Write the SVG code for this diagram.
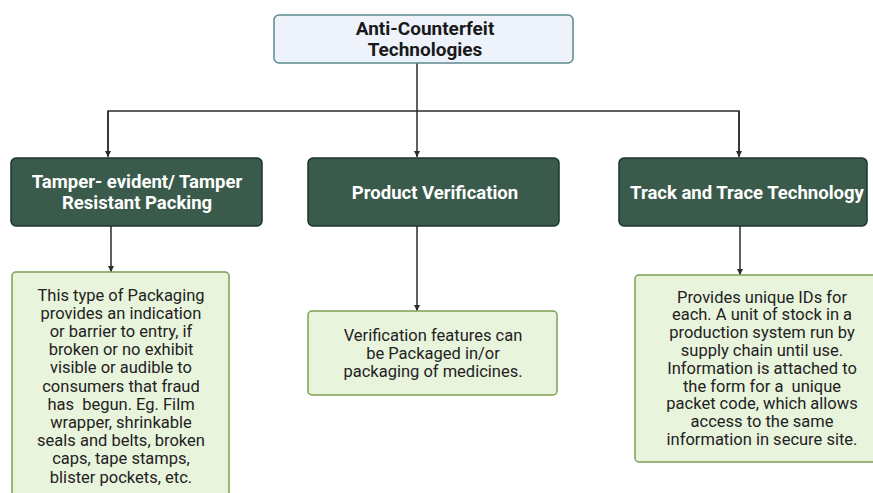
<svg xmlns="http://www.w3.org/2000/svg" width="873" height="493" viewBox="0 0 873 493">
<defs>
<marker id="arr" viewBox="0 0 10 10" refX="10" refY="5" markerWidth="6" markerHeight="6" markerUnits="userSpaceOnUse" orient="auto">
<path d="M0,0 L10,5 L0,10 z" fill="#2b2b2b"/>
</marker>
<style>
.root{fill:#eef3fb;stroke:#5a8b8c;stroke-width:1.5}
.head{fill:#3a5b4b;stroke:#1d3528;stroke-width:1.5}
.body{fill:#e9f4dd;stroke:#7c9f52;stroke-width:1.5}
.t1{font-family:Roboto,"Liberation Sans",sans-serif;font-weight:bold;font-size:19px;fill:#1a1a1a;text-anchor:middle}
.t2{font-family:Roboto,"Liberation Sans",sans-serif;font-weight:bold;font-size:18.5px;fill:#ffffff;text-anchor:middle}
.t3{font-family:Roboto,"Liberation Sans",sans-serif;font-size:16.5px;fill:#222222;text-anchor:middle}
.c{fill:none;stroke:#2b2b2b;stroke-width:1.5}
</style>
</defs>
<g id="connectors">
<path class="c" d="M417,63 V157" marker-end="url(#arr)"/>
<path class="c" d="M108,156 V111 H739 V156" />
<path class="c" d="M108,111 V157" marker-end="url(#arr)"/>
<path class="c" d="M739,111 V157" marker-end="url(#arr)"/>
<path class="c" d="M111,226 V272" marker-end="url(#arr)"/>
<path class="c" d="M417,226 V311" marker-end="url(#arr)"/>
<path class="c" d="M740,226 V275" marker-end="url(#arr)"/>
</g>
<g id="root">
<rect class="root" x="274" y="15" width="299" height="48" rx="5"/>
<text class="t1" x="425" y="35">Anti-Counterfeit<tspan x="425" dy="21">Technologies</tspan></text>
</g>
<g id="tamper">
<rect class="head" x="11" y="158" width="251" height="68" rx="5"/>
<text class="t2" x="137" y="187.5">Tamper- evident/ Tamper<tspan x="137" dy="21">Resistant Packing</tspan></text>
</g>
<g id="verification">
<rect class="head" x="308" y="158" width="251" height="68" rx="5"/>
<text class="t2" x="435" y="198.5">Product Verification</text>
</g>
<g id="track">
<rect class="head" x="619" y="158" width="248" height="68" rx="5"/>
<text class="t2" x="747" y="198.5">Track and Trace Technology</text>
</g>
<g id="tamper-desc">
<rect class="body" x="12" y="272" width="217" height="230" rx="4"/>
<text class="t3" x="121" y="300.5" xml:space="preserve">This type of Packaging<tspan x="121" dy="18.2">provides an indication</tspan><tspan x="121" dy="18.2">or barrier to entry, if</tspan><tspan x="121" dy="18.2">broken or no exhibit</tspan><tspan x="121" dy="18.2">visible or audible to</tspan><tspan x="121" dy="18.2">consumers that fraud</tspan><tspan x="121" dy="18.2">has  begun. Eg. Film</tspan><tspan x="121" dy="18.2">wrapper, shrinkable</tspan><tspan x="121" dy="18.2">seals and belts, broken</tspan><tspan x="121" dy="18.2">caps, tape stamps,</tspan><tspan x="121" dy="18.2">blister pockets, etc.</tspan></text>
</g>
<g id="verification-desc">
<rect class="body" x="308" y="311" width="249" height="84" rx="4"/>
<text class="t3" x="433" y="340.5">Verification features can<tspan x="433" dy="18">be Packaged in/or</tspan><tspan x="433" dy="18">packaging of medicines.</tspan></text>
</g>
<g id="track-desc">
<rect class="body" x="635" y="275" width="255" height="187" rx="4"/>
<text class="t3" x="762" y="302.5" xml:space="preserve">Provides unique IDs for<tspan x="762" dy="17.8">each. A unit of stock in a</tspan><tspan x="762" dy="17.8">production system run by</tspan><tspan x="762" dy="17.8">supply chain until use.</tspan><tspan x="762" dy="17.8">Information is attached to</tspan><tspan x="762" dy="17.8">the form for a  unique</tspan><tspan x="762" dy="17.8">packet code, which allows</tspan><tspan x="762" dy="17.8">access to the same</tspan><tspan x="762" dy="17.8">information in secure site.</tspan></text>
</g>
</svg>
